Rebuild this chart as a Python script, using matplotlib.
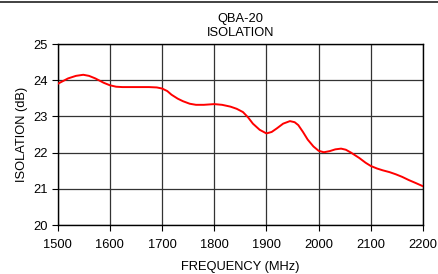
import matplotlib
matplotlib.use("Agg")
import matplotlib.pyplot as plt
from matplotlib.lines import Line2D

plt.rcParams['font.family'] = ['Liberation Sans', 'DejaVu Sans']

freq = [1500, 1520, 1535, 1549, 1560, 1572, 1588, 1600, 1612, 1624, 1650, 1675,
        1690, 1700, 1710, 1718, 1730, 1740, 1753, 1765, 1780, 1800, 1815, 1831,
        1843, 1855, 1865, 1874, 1887, 1900, 1910, 1920, 1932, 1945, 1954, 1961,
        1970, 1979, 1990, 2000, 2010, 2021, 2032, 2043, 2052, 2062, 2078, 2090,
        2100, 2112, 2123, 2136, 2148, 2160, 2173, 2186, 2200]
isolation = [23.90, 24.05, 24.12, 24.15, 24.12, 24.05, 23.93, 23.86, 23.82, 23.81,
             23.81, 23.81, 23.80, 23.77, 23.70, 23.60, 23.49, 23.42, 23.35, 23.32,
             23.32, 23.34, 23.32, 23.27, 23.21, 23.12, 22.97, 22.80, 22.63, 22.53,
             22.57, 22.67, 22.80, 22.87, 22.84, 22.76, 22.57, 22.36, 22.17, 22.05,
             22.01, 22.04, 22.09, 22.11, 22.08, 22.00, 21.85, 21.72, 21.63, 21.56,
             21.51, 21.46, 21.40, 21.33, 21.24, 21.16, 21.07]
xticks = [1500, 1600, 1700, 1800, 1900, 2000, 2100, 2200]
yticks = [20, 21, 22, 23, 24, 25]

fs = 9.3
fig = plt.figure(figsize=(4.38, 2.74), dpi=100)
ax = fig.add_axes([0.1317, 0.1788, 0.8341, 0.6606])
ax.plot(freq, isolation, color='#ff0000', lw=1.4, zorder=3,
        solid_joinstyle='round', solid_capstyle='round')
ax.set_xlim(1500, 2200)
ax.set_ylim(20, 25)
ax.set_xticks(xticks)
ax.set_yticks(yticks)
ax.grid(True, color='#333333', lw=0.9)
for s in ax.spines.values():
    s.set_color('black')
    s.set_linewidth(1.0)
ax.tick_params(labelsize=fs, length=4, width=0.8, color='black')
ax.tick_params(axis='x', pad=6)
ax.tick_params(axis='y', pad=3)
ax.set_xlabel('FREQUENCY (MHz)', fontsize=fs, labelpad=7)
ax.set_ylabel('ISOLATION (dB)', fontsize=fs, labelpad=4)
ax.set_title('QBA-20\nISOLATION', fontsize=fs, pad=6, linespacing=1.2)

fig.add_artist(Line2D([0, 1], [0.9945, 0.9945], transform=fig.transFigure,
                      color='#333333', lw=1.3))
fig.savefig('out.png', dpi=100)
